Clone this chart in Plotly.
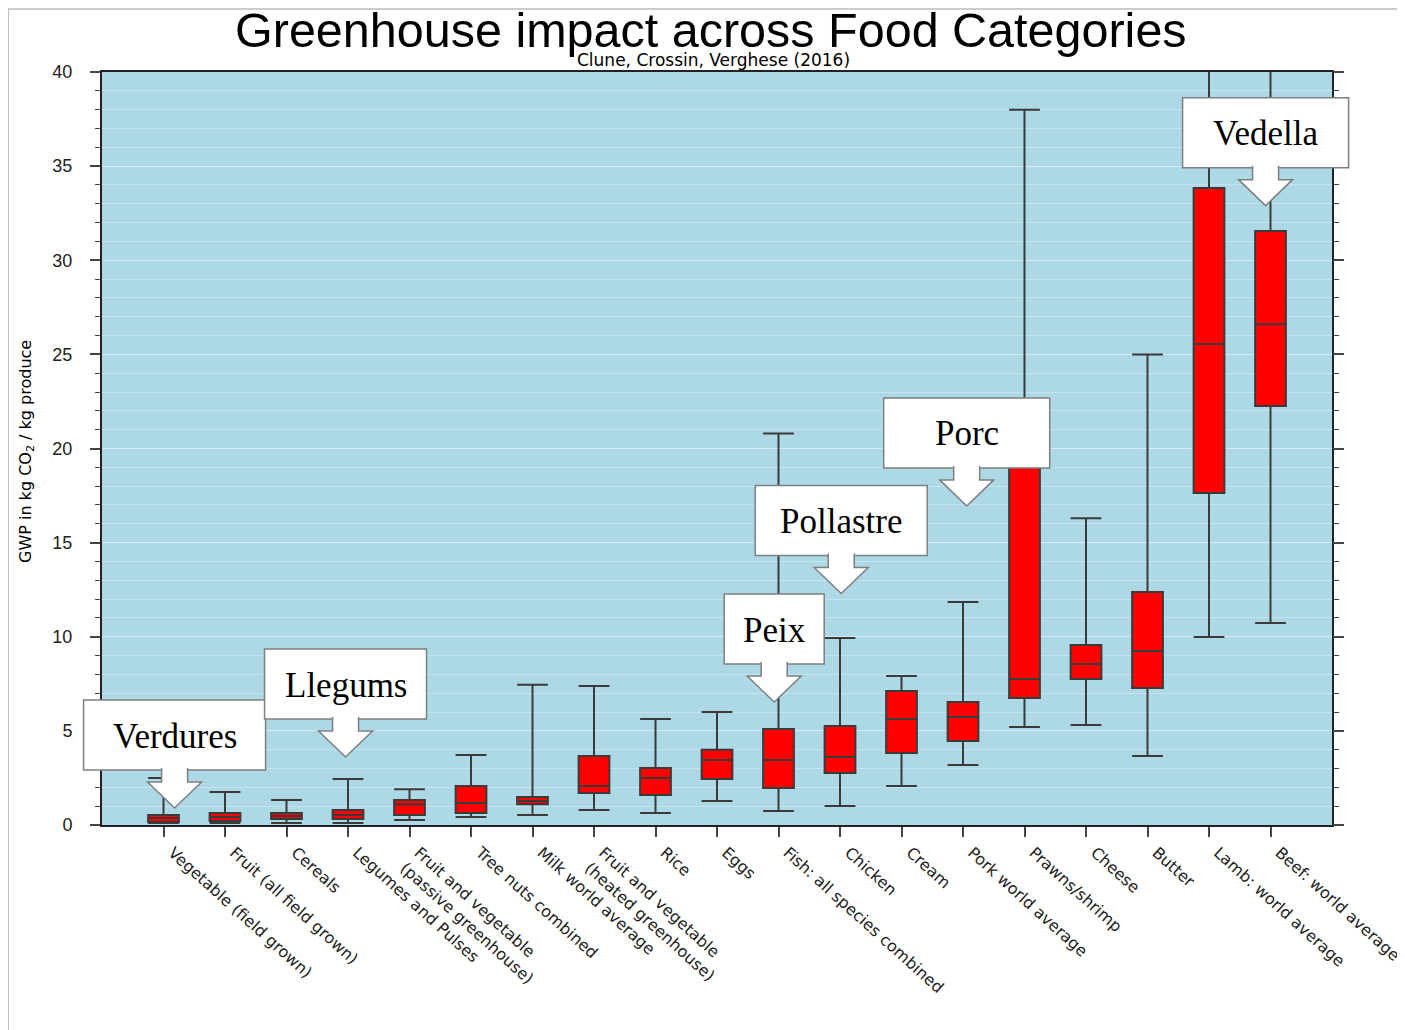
import plotly.graph_objects as go

# ---------------- data ----------------
categories = [
    "Vegetable (field grown)", "Fruit (all field grown)", "Cereals",
    "Legumes and Pulses", "Fruit and vegetable<br>(passive greenhouse)",
    "Tree nuts combined", "Milk world average",
    "Fruit and vegetable<br>(heated greenhouse)", "Rice", "Eggs",
    "Fish: all species combined", "Chicken", "Cream", "Pork world average",
    "Prawns/shrimp", "Cheese", "Butter", "Lamb: world average",
    "Beef: world average",
]
lower_whisker = [0.1, 0.1, 0.1, 0.1, 0.27, 0.42, 0.53, 0.8, 0.64, 1.27, 0.74, 1.01,
                 2.07, 3.19, 5.2, 5.31, 3.67, 9.99, 10.73]
q1_values = [0.16, 0.21, 0.32, 0.32, 0.53, 0.64, 1.1, 1.7, 1.59, 2.44, 1.97, 2.76,
             3.82, 4.46, 6.75, 7.76, 7.28, 17.64, 22.26]
median_values = [0.37, 0.42, 0.48, 0.53, 1.1, 1.17, 1.27, 2.07, 2.5, 3.45, 3.45, 3.61,
                 5.63, 5.74, 7.76, 8.55, 9.24, 25.55, 26.6]
q3_values = [0.53, 0.64, 0.64, 0.8, 1.33, 2.07, 1.49, 3.67, 3.03, 4.0, 5.1, 5.26,
             7.12, 6.53, 21.0, 9.56, 12.38, 33.84, 31.55]
upper_whisker = [2.5, 1.75, 1.33, 2.44, 1.9, 3.72, 7.45, 7.38, 5.63, 6.0, 20.8, 9.93,
                 7.92, 11.85, 38.0, 16.3, 25.0, 48.0, 60.0]

y_ticks = [0, 5, 10, 15, 20, 25, 30, 35, 40]

# callouts: label, category index it points at, value it points at
callout_labels = ["Verdures", "Llegums", "Peix", "Pollastre", "Porc", "Vedella"]
callout_cat = [0.18, 2.96, 9.93, 11.02, 13.06, 17.92]
callout_val = [0.9, 3.61, 6.53, 12.3, 16.95, 32.9]
callout_halfwidth_px = [91, 81, 50, 86, 83, 83]

title_text = "Greenhouse impact across Food Categories"
subtitle_text = "Clune, Crossin, Verghese (2016)"

# ---------------- layout geometry (screen pixels) ----------------
FIG_W, FIG_H = 1405, 1030
PAGE_OFF = 8              # default body margin of the html page
L, T = 102, 72            # plot area top-left on screen
W, H = 1230, 753          # plot area size
X_RANGE = [-1, 19]
Y_RANGE = [0, 40]

m_l = L - PAGE_OFF
m_t = T - PAGE_OFF
m_r = FIG_W - m_l - W
m_b = FIG_H - m_t - H


def data_to_px(xi, yv):
    px = L + (xi - X_RANGE[0]) / (X_RANGE[1] - X_RANGE[0]) * W
    py = T + (1 - (yv - Y_RANGE[0]) / (Y_RANGE[1] - Y_RANGE[0])) * H
    return px, py


def px_to_paper(px, py):
    return (px - L) / W, (T + H - py) / H


xs = list(range(len(categories)))

fig = go.Figure()
fig.add_trace(go.Box(
    x=xs,
    q1=q1_values, median=median_values, q3=q3_values,
    lowerfence=lower_whisker, upperfence=upper_whisker,
    orientation="v",
    fillcolor="#ff0000",
    line=dict(color="#3a3a3a", width=2),
    width=0.5, whiskerwidth=1,
    boxpoints=False, showlegend=False,
))
# invisible trace to carry the right-hand tick axis
fig.add_trace(go.Scatter(x=[None], y=[None], yaxis="y2", showlegend=False, hoverinfo="skip"))

shapes = []
annotations = []

# outer frame
fx0, fy0 = px_to_paper(8, 9)
fx1, fy1 = px_to_paper(FIG_W + 20, FIG_H + 20)
shapes.append(dict(type="rect", xref="paper", yref="paper", x0=fx0, y0=fy1, x1=fx1, y1=fy0,
                   line=dict(color="#9a9a9a", width=1.2), fillcolor="rgba(0,0,0,0)", layer="below"))

# callouts
for lab, ci, cv, hw in zip(callout_labels, callout_cat, callout_val, callout_halfwidth_px):
    tx, ty = data_to_px(ci, cv)
    rb = ty - 38
    rt = rb - 70
    x0, y0 = px_to_paper(tx - hw, rb)
    x1, y1 = px_to_paper(tx + hw, rt)
    shapes.append(dict(type="rect", xref="paper", yref="paper", x0=x0, y0=y0, x1=x1, y1=y1,
                       fillcolor="white", line=dict(color="#7f7f7f", width=1.5), layer="above"))
    pts = [(tx - 13, rb - 2), (tx - 13, ty - 26), (tx - 27, ty - 26), (tx, ty),
           (tx + 27, ty - 26), (tx + 13, ty - 26), (tx + 13, rb - 2)]
    path = ""
    for i, (px, py) in enumerate(pts):
        ppx, ppy = px_to_paper(px, py)
        path += ("M" if i == 0 else "L") + f"{ppx:.5f},{ppy:.5f}"
    shapes.append(dict(type="path", xref="paper", yref="paper", path=path,
                       fillcolor="white", line=dict(color="#7f7f7f", width=1.5), layer="above"))
    ax, ay = px_to_paper(tx, (rb + rt) / 2 + 1)
    annotations.append(dict(text=lab, x=ax, y=ay, xref="paper", yref="paper", showarrow=False,
                            xanchor="center", yanchor="middle",
                            font=dict(family="Liberation Serif", size=35, color="black")))

# title & subtitle
tx_, ty_ = px_to_paper(711, 30)
annotations.append(dict(text=title_text, x=tx_, y=ty_, xref="paper", yref="paper", showarrow=False,
                        xanchor="center", yanchor="middle",
                        font=dict(family="Liberation Sans", size=48.5, color="black")))
sx_, sy_ = px_to_paper(713, 60)
annotations.append(dict(text=subtitle_text, x=sx_, y=sy_, xref="paper", yref="paper", showarrow=False,
                        xanchor="center", yanchor="middle",
                        font=dict(family="DejaVu Sans", size=17, color="black")))
# y axis title
yx_, yy_ = px_to_paper(26, 452)
annotations.append(dict(text="GWP in kg CO<sub>2</sub> / kg produce", x=yx_, y=yy_,
                        xref="paper", yref="paper", showarrow=False, textangle=-90,
                        xanchor="center", yanchor="middle",
                        font=dict(family="DejaVu Sans", size=16, color="black")))

fig.update_layout(
    width=FIG_W, height=FIG_H,
    margin=dict(l=m_l, r=m_r, t=m_t, b=m_b, pad=0),
    paper_bgcolor="white",
    plot_bgcolor="#add8e6",
    shapes=shapes,
    annotations=annotations,
    showlegend=False,
    xaxis=dict(
        range=X_RANGE, tickmode="array", tickvals=xs, ticktext=categories,
        tickangle=42, ticks="outside", ticklen=10, tickwidth=1.5, tickcolor="#444",
        ticklabelshift=9, automargin=False,
        showline=True, linecolor="#222", linewidth=2, mirror=True,
        showgrid=False, zeroline=False,
        tickfont=dict(family="DejaVu Sans", size=16, color="#222"),
    ),
    yaxis=dict(
        range=Y_RANGE, tickmode="array", tickvals=y_ticks,
        ticks="outside", ticklen=10, tickwidth=1.5, tickcolor="#444",
        ticklabelstandoff=14, automargin=False,
        showline=True, linecolor="#222", linewidth=2, mirror=True,
        showgrid=True, gridcolor="rgba(255,255,255,0.3)", gridwidth=1,
        zeroline=False,
        minor=dict(dtick=1, ticks="outside", ticklen=5, tickwidth=1.2, tickcolor="#444",
                   showgrid=True, gridcolor="rgba(255,255,255,0.3)", gridwidth=1),
        tickfont=dict(family="Liberation Sans", size=18, color="#222"),
    ),
    yaxis2=dict(
        overlaying="y", side="right", range=Y_RANGE, tickmode="array", tickvals=y_ticks,
        showticklabels=False, ticks="outside", ticklen=11, tickwidth=1.5, tickcolor="#444",
        showgrid=False, zeroline=False, showline=False, automargin=False,
        minor=dict(dtick=1, ticks="outside", ticklen=6, tickwidth=1.2, tickcolor="#444",
                   showgrid=False),
    ),
)

fig.write_html("out.html")
